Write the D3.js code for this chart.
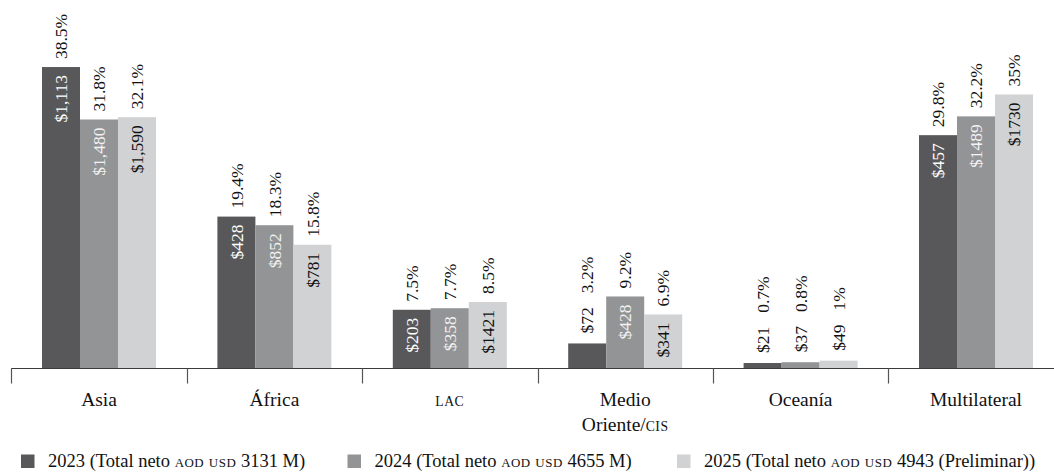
<!DOCTYPE html>
<html lang="es">
<head>
<meta charset="utf-8">
<script src="https://cdn.jsdelivr.net/npm/d3@7"></script>
<style>
  html, body { margin: 0; padding: 0; background: #fff; }
  svg { display: block; font-family: "Liberation Serif", "Times New Roman", serif; }
</style>
</head>
<body>
<svg id="chart" width="1054" height="474"></svg>
<script>
// Regions and series
const categories = ["Asia", "África", "LAC", "Medio Oriente/CIS", "Oceanía", "Multilateral"];
const years = ["2023", "2024", "2025"];
const legendLabels = [
  "2023 (Total neto AOD USD 3131 M)",
  "2024 (Total neto AOD USD 4655 M)",
  "2025 (Total neto AOD USD 4943 (Preliminar))"
];

// Share of total net ODA (%) per region
const pct2023 = [38.5, 19.4, 7.5, 3.2, 0.7, 29.8];
const pct2024 = [31.8, 18.3, 7.7, 9.2, 0.8, 32.2];
const pct2025 = [32.1, 15.8, 8.5, 6.9, 1, 35];

// Amounts in USD millions, as printed on the bars
const usd2023 = ["$1,113", "$428", "$203", "$72", "$21", "$457"];
const usd2024 = ["$1,480", "$852", "$358", "$428", "$37", "$1489"];
const usd2025 = ["$1,590", "$781", "$1421", "$341", "$49", "$1730"];

const pctSeries = [pct2023, pct2024, pct2025];
const usdSeries = [usd2023, usd2024, usd2025];

const colors = ["#58585a", "#939496", "#d1d2d4"];
const innerText = ["#ffffff", "#f2f2f2", "#111111"];

const svg = d3.select("#chart");
const W = 1054;
const baseY = 368.5;

// Band per region; the last band runs past the right edge
const x0 = d3.scaleBand().domain(categories).range([11.3, 1063.7]).padding(0);
const groupW = x0.bandwidth() * 0.65;
const x1 = d3.scaleBand().domain(years)
  .range([(x0.bandwidth() - groupW) / 2, (x0.bandwidth() + groupW) / 2]).padding(0);
const y = d3.scaleLinear().domain([0, 40]).range([baseY, 55.3]);

const rows = [];
categories.forEach((c, i) => {
  years.forEach((yr, j) => {
    rows.push({ cat: c, year: yr, j, pct: pctSeries[j][i], usd: usdSeries[j][i] });
  });
});

// Bars
const g = svg.append("g");
g.selectAll("rect.bar").data(rows).join("rect")
  .attr("class", "bar")
  .attr("x", d => x0(d.cat) + x1(d.year))
  .attr("width", x1.bandwidth())
  .attr("y", d => y(d.pct))
  .attr("height", d => y(0) - y(d.pct))
  .attr("fill", d => colors[d.j]);

// Rotated labels: amount inside the bar when it fits, otherwise above it; share on top
const labelFont = 17.5;
rows.forEach(d => {
  const cx = x0(d.cat) + x1(d.year) + x1.bandwidth() / 2;
  const top = y(d.pct);
  const h = y(0) - top;

  const usdT = g.append("text")
    .attr("font-size", labelFont)
    .attr("dy", "0.35em")
    .text(d.usd);
  const usdLen = usdT.node().getComputedTextLength();

  let pctStart;
  if (h >= usdLen + 14) {
    usdT.attr("text-anchor", "end")
      .attr("fill", innerText[d.j])
      .attr("transform", `translate(${cx},${top + 8}) rotate(-90)`);
    pctStart = top - 8;
  } else {
    usdT.attr("text-anchor", "start")
      .attr("fill", "#111")
      .attr("transform", `translate(${cx},${top - 10}) rotate(-90)`);
    pctStart = top - 10 - usdLen - 14;
  }

  g.append("text")
    .attr("font-size", labelFont)
    .attr("dy", "0.35em")
    .attr("text-anchor", "start")
    .attr("fill", "#111")
    .attr("transform", `translate(${cx},${pctStart}) rotate(-90)`)
    .text(d.pct + "%");
});

// Axis line and band separators
const axis = svg.append("g");
axis.append("line")
  .attr("x1", x0.range()[0]).attr("x2", W)
  .attr("y1", baseY).attr("y2", baseY)
  .attr("stroke", "#3a3a3a").attr("stroke-width", 1.2);
axis.selectAll("line.tick").data(categories).join("line")
  .attr("class", "tick")
  .attr("x1", d => Math.round(x0(d)) + 0.5).attr("x2", d => Math.round(x0(d)) + 0.5)
  .attr("y1", baseY).attr("y2", baseY + 15)
  .attr("stroke", "#555").attr("stroke-width", 1.2);

// Writes a string into a text element, setting acronyms as reduced capitals
function richText(sel, str) {
  const parts = str.split(/([A-Z]{2,})/);
  parts.forEach(p => {
    if (!p) return;
    if (/^[A-Z]{2,}$/.test(p)) sel.append("tspan").attr("font-size", "0.7em").attr("letter-spacing", "0.04em").text(p);
    else sel.append("tspan").text(p);
  });
}

// Region names, wrapped onto two lines when wider than the band allows
const catFont = 19.5;
categories.forEach(c => {
  const cx = x0(c) + x0.bandwidth() / 2;
  const t = svg.append("text")
    .attr("font-size", catFont)
    .attr("text-anchor", "middle")
    .attr("fill", "#111");
  const words = c.split(" ");
  const probe = svg.append("text").attr("font-size", catFont).text(c);
  const tooWide = probe.node().getComputedTextLength() > 125;
  probe.remove();
  const lines = tooWide ? [words.slice(0, 1).join(" "), words.slice(1).join(" ")] : [c];
  lines.forEach((ln, k) => {
    const lt = t.append("tspan").attr("x", cx).attr("y", 405.5 + k * 25.5);
    richText(lt, ln);
  });
});

// Legend
const legendX = [21, 347.5, 677];
const legendFont = 18.5;
legendLabels.forEach((lab, j) => {
  const lg = svg.append("g").attr("transform", `translate(${legendX[j]},0)`);
  lg.append("rect")
    .attr("x", 0).attr("y", 454.5)
    .attr("width", 13.5).attr("height", 13.5)
    .attr("fill", colors[j]);
  const t = lg.append("text")
    .attr("x", 27).attr("y", 467)
    .attr("font-size", legendFont)
    .attr("fill", "#111");
  richText(t, lab);
});
</script>
</body>
</html>
